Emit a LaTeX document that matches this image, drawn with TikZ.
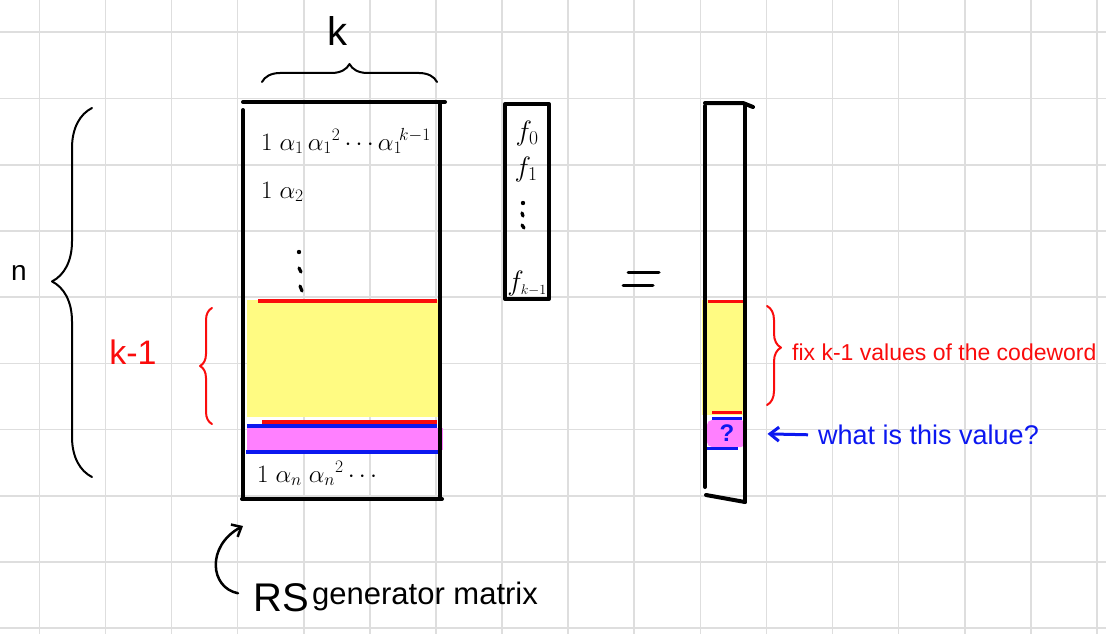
\RequirePackage{fix-cm}
\documentclass[tikz,border=0pt]{standalone}
\usepackage{fontspec}
\setmainfont{Liberation Sans}
\usetikzlibrary{arrows.meta,decorations.pathreplacing}

\definecolor{gridgray}{RGB}{222,222,222}
\definecolor{hlyellow}{RGB}{255,251,130}
\definecolor{hlpink}{RGB}{255,128,255}
\definecolor{penred}{RGB}{250,12,12}
\definecolor{penblue}{RGB}{12,24,240}

\tikzset{
  gridline/.style={gridgray, line width=1.6pt},
  pen/.style={line width=4pt, line cap=round},
  thinpen/.style={line width=2pt, line cap=round},
  curly/.style={thinpen, decorate, decoration={brace, amplitude=#1}},
  hand/.style={inner sep=0pt, font=\fontsize{#1}{#1}\selectfont},
  hand/.default=28,
  dotstroke/.style={line width=3.2pt, line cap=round},
}

\begin{document}
\begin{tikzpicture}[x=1pt,y=-1pt,line join=round]
  % Keep the page the size of the sheet photo.
  \useasboundingbox (0,0) rectangle (1106,634);

  % Graph paper.
  \foreach \i in {0,...,16}
    \draw[gridline] (39.3+66.1*\i,0) -- ++(0,634);
  \foreach \j in {0,...,9}
    \draw[gridline] (0,32.3+66.2*\j) -- ++(1106,0);

  % Highlighted rows of the generator matrix.
  \fill[hlyellow] (247,300) rectangle (438,417);
  \fill[hlpink] (247,428) rectangle (443,450);
  \draw[penred, line width=3.5pt] (258,301) -- (437,301);
  \draw[penred, line width=3.5pt] (262,422) -- (437,422);
  \draw[penblue, line width=3.5pt] (247,426) -- (437,426);
  \draw[penblue, line width=3.5pt] (246,452) -- (441,452);

  % Generator matrix frame.
  \draw[pen] (243,110) -- (243,499);
  \draw[pen] (243,102) -- (445,102);
  \draw[pen] (440,102) -- (440,499);
  \draw[pen] (242,499) -- (442,499);

  \node[hand=25, anchor=base west] (row1) at (261,150) {$1\;\alpha_1\,{\alpha_1}^{2}\,{\cdots}\,{\alpha_1}^{\!k-1}$};
  \node[hand=25, anchor=base west] (row2) at (261,198) {$1\;\alpha_2$};
  \node[hand=25, anchor=base west] (rown) at (257,482) {$1\;\alpha_n\;{\alpha_n}^{2}\,{\cdots}$};
  % rows in between
  \fill (299,252) circle[radius=2.2pt];
  \draw[dotstroke] (299,268) -- (301,272);
  \draw[dotstroke] (300,286) -- (302,291);

  % Width and height braces.
  \draw[curly=18] (262,82) -- (437,82);
  \node[hand=40] (klabel) at (337,31) {k};
  \draw[curly=40, decoration={aspect=0.53}] (92,477) -- (92,108);
  \node[hand=28] (nlabel) at (19,273) {n};
  \draw[curly=12, penred] (212,424) -- (212,308);
  \node[hand=34, penred] (kmlabel) at (133,352) {k-1};

  % Message vector.
  \draw[pen] (505,104) rectangle (549,299);
  \node[hand, anchor=base] (f0) at (527,140) {$f_0$};
  \node[hand, anchor=base] (f1) at (526,176) {$f_1$};
  \node[hand, anchor=base] (fk) at (527,290) {$f_{\scriptscriptstyle k-1}$};
  \fill (523,203) circle[radius=2.2pt];
  \draw[dotstroke] (522,213) -- (523,216);
  \draw[dotstroke] (522,225) -- (524,228);

  % Equals sign.
  \draw[line width=3pt, line cap=round] (628,272) -- (659,272);
  \draw[line width=3pt, line cap=round] (623,285) -- (653,285);

  % Codeword column.
  \fill[hlyellow] (702,300) rectangle (744,415);
  \fill[hlpink, rounded corners=5pt] (707,420) rectangle (746,447);
  \draw[penred, line width=3pt] (708,301) -- (744,301);
  \draw[penred, line width=3pt] (712,412) -- (742,412);
  \draw[penblue, line width=3pt] (712,418) -- (742,418);
  \draw[penblue, line width=3pt] (706,448) -- (738,448);
  \draw[pen] (705,106) -- (705,487);
  \draw[pen] (705,103) -- (743,103) -- (753,107);
  \draw[pen] (745,104) -- (745,502);
  \draw[pen] (706,495) -- (745,502);
  \node[inner sep=0pt, penblue, font=\fontsize{24}{24}\selectfont\bfseries] (qmark) at (727,433) {?};

  % Notes on the codeword.
  \draw[curly=14, penred, decoration={aspect=0.42}] (767,306) -- (767,405);
  \node[hand=23, penred, anchor=west] (fixtxt) at (792,352) {fix k-1 values of the codeword};
  \node[hand=27, penblue, anchor=west] (whattxt) at (818,435) {what is this value?};
  \draw[penblue, line width=3pt, shorten <=10pt, shorten >=33pt,
    -{Straight Barb[length=9pt,width=14pt]}] (whattxt.west) -- (qmark);

  % Caption.
  \node[hand=40, anchor=base west] (rs) at (253,611) {RS};
  \node[hand=31, anchor=base west] (genmat) at (312,604) {generator matrix};
  \coordinate (rstip) at (243,526);
  \draw[line width=2.5pt, line cap=round, -{Straight Barb[length=8pt,width=14pt]}]
    ([xshift=-15pt,yshift=4pt]rs.west) .. controls (210,588) and (206,546) .. (rstip);
\end{tikzpicture}
\end{document}
